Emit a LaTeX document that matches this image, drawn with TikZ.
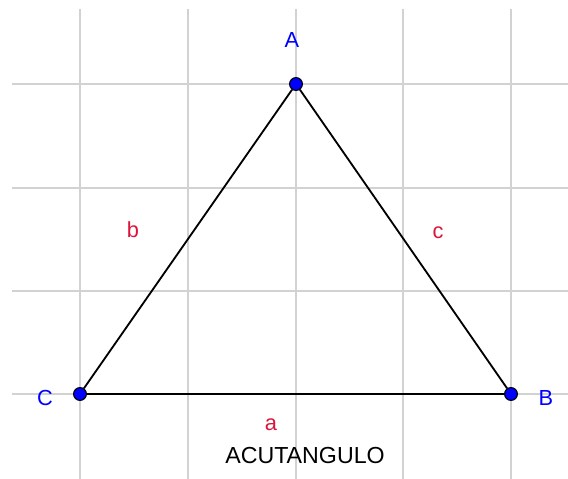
\documentclass[tikz,border=0pt]{standalone}
\usepackage{fontspec}
\setmainfont{Liberation Sans}
\usetikzlibrary{positioning}
\definecolor{ptblue}{RGB}{0,0,255}
\definecolor{sidered}{RGB}{220,20,60}
\definecolor{gridgray}{RGB}{210,210,210}

\begin{document}
\begin{tikzpicture}[x=0.025cm,y=-0.025cm,
  pt/.style={circle,draw=black,fill=ptblue,line width=0.8pt,inner sep=0pt,minimum size=3.2mm},
  ptname/.style={text=ptblue,font=\fontsize{15.5}{18}\selectfont},
  sidename/.style={text=sidered,font=\fontsize{15.5}{18}\selectfont},
  gridline/.style={draw=gridgray,line width=1.3pt}]
\useasboundingbox (0,0) rectangle (568,479);
\foreach \x in {80,188,296,403,511} \draw[gridline] (\x,9) -- (\x,479);
\foreach \y in {84,188,291,394} \draw[gridline] (12,\y) -- (568,\y);
\node[pt] (A) at (296,84) {};
\node[pt] (B) at (511,394) {};
\node[pt] (C) at (80,394) {};
\draw[line width=1.3pt] (A) -- (B) -- (C) -- (A);
\node[ptname] (lA) at (292,40) {A};
\node[ptname] (lB) at (546,398) {B};
\node[ptname] (lC) at (45,398) {C};
\node[sidename] (sa) at (271,425) {a};
\node[sidename] (sb) at (133,230) {b};
\node[sidename] (sc) at (438,233) {c};
\node[font=\fontsize{16.5}{20}\selectfont] (kind) at (305,455.5) {ACUTANGULO};
\end{tikzpicture}
\end{document}
